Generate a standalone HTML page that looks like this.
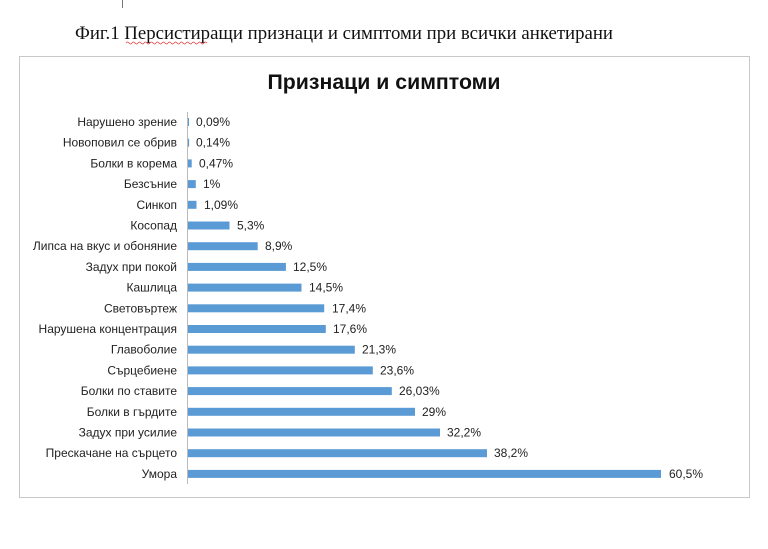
<!DOCTYPE html>
<html><head><meta charset="utf-8"><style>
body{margin:0;width:768px;height:544px;background:#fff;overflow:hidden;}
</style></head><body>
<svg width="768" height="544" xmlns="http://www.w3.org/2000/svg">
<line x1="122.5" y1="0" x2="122.5" y2="8" stroke="#777" stroke-width="1"/>
<text x="75" y="39" font-family="Liberation Serif, serif" font-size="18.5" fill="#111" textLength="538" lengthAdjust="spacingAndGlyphs">Фиг.1 Персистиращи признаци и симптоми при всички анкетирани</text>
<path d="M126 43 q1.5 -2 3 0 t3 0 t3 0 t3 0 t3 0 t3 0 t3 0 t3 0 t3 0 t3 0 t3 0 t3 0 t3 0 t3 0 t3 0 t3 0 t3 0 t3 0 t3 0 t3 0 t3 0 t3 0 t3 0 t3 0 t3 0 t3 0 t3 0" stroke="#e04040" stroke-width="0.7" fill="none"/>
<rect x="19.5" y="56.5" width="730" height="441" fill="#fff" stroke="#c8c8c8"/>
<text x="384" y="89" text-anchor="middle" font-family="Liberation Sans, sans-serif" font-weight="bold" font-size="21" fill="#111" textLength="233" lengthAdjust="spacingAndGlyphs">Признаци и симптоми</text>
<line x1="187.5" y1="112" x2="187.5" y2="484" stroke="#bbb"/>
<g font-family="Liberation Sans, sans-serif" font-size="12" fill="#222">
<text x="177" y="126" text-anchor="end">Нарушено зрение</text><rect x="188" y="118" width="1" height="8" fill="#5b9bd5"/><text x="196" y="126">0,09%</text>
<text x="177" y="146.7" text-anchor="end">Новоповил се обрив</text><rect x="188" y="138.7" width="1.1" height="8" fill="#5b9bd5"/><text x="196" y="146.7">0,14%</text>
<text x="177" y="167.4" text-anchor="end">Болки в корема</text><rect x="188" y="159.4" width="3.7" height="8" fill="#5b9bd5"/><text x="199" y="167.4">0,47%</text>
<text x="177" y="188.1" text-anchor="end">Безсъние</text><rect x="188" y="180.1" width="7.8" height="8" fill="#5b9bd5"/><text x="203" y="188.1">1%</text>
<text x="177" y="208.8" text-anchor="end">Синкоп</text><rect x="188" y="200.8" width="8.5" height="8" fill="#5b9bd5"/><text x="204" y="208.8">1,09%</text>
<text x="177" y="229.5" text-anchor="end">Косопад</text><rect x="188" y="221.5" width="41.5" height="8" fill="#5b9bd5"/><text x="237" y="229.5">5,3%</text>
<text x="177" y="250.2" text-anchor="end">Липса на вкус и обоняние</text><rect x="188" y="242.2" width="69.7" height="8" fill="#5b9bd5"/><text x="265" y="250.2">8,9%</text>
<text x="177" y="270.9" text-anchor="end">Задух при покой</text><rect x="188" y="262.9" width="97.9" height="8" fill="#5b9bd5"/><text x="293" y="270.9">12,5%</text>
<text x="177" y="291.6" text-anchor="end">Кашлица</text><rect x="188" y="283.6" width="113.5" height="8" fill="#5b9bd5"/><text x="309" y="291.6">14,5%</text>
<text x="177" y="312.3" text-anchor="end">Световъртеж</text><rect x="188" y="304.3" width="136.2" height="8" fill="#5b9bd5"/><text x="332" y="312.3">17,4%</text>
<text x="177" y="333" text-anchor="end">Нарушена концентрация</text><rect x="188" y="325" width="137.8" height="8" fill="#5b9bd5"/><text x="333" y="333">17,6%</text>
<text x="177" y="353.7" text-anchor="end">Главоболие</text><rect x="188" y="345.7" width="166.8" height="8" fill="#5b9bd5"/><text x="362" y="353.7">21,3%</text>
<text x="177" y="374.4" text-anchor="end">Сърцебиене</text><rect x="188" y="366.4" width="184.8" height="8" fill="#5b9bd5"/><text x="380" y="374.4">23,6%</text>
<text x="177" y="395.1" text-anchor="end">Болки по ставите</text><rect x="188" y="387.1" width="203.8" height="8" fill="#5b9bd5"/><text x="399" y="395.1">26,03%</text>
<text x="177" y="415.8" text-anchor="end">Болки в гърдите</text><rect x="188" y="407.8" width="227" height="8" fill="#5b9bd5"/><text x="422" y="415.8">29%</text>
<text x="177" y="436.5" text-anchor="end">Задух при усилие</text><rect x="188" y="428.5" width="252" height="8" fill="#5b9bd5"/><text x="447" y="436.5">32,2%</text>
<text x="177" y="457.2" text-anchor="end">Прескачане на сърцето</text><rect x="188" y="449.2" width="299" height="8" fill="#5b9bd5"/><text x="494" y="457.2">38,2%</text>
<text x="177" y="477.9" text-anchor="end">Умора</text><rect x="188" y="469.9" width="473" height="8" fill="#5b9bd5"/><text x="669" y="477.9">60,5%</text>
</g>
</svg>
</body></html>
